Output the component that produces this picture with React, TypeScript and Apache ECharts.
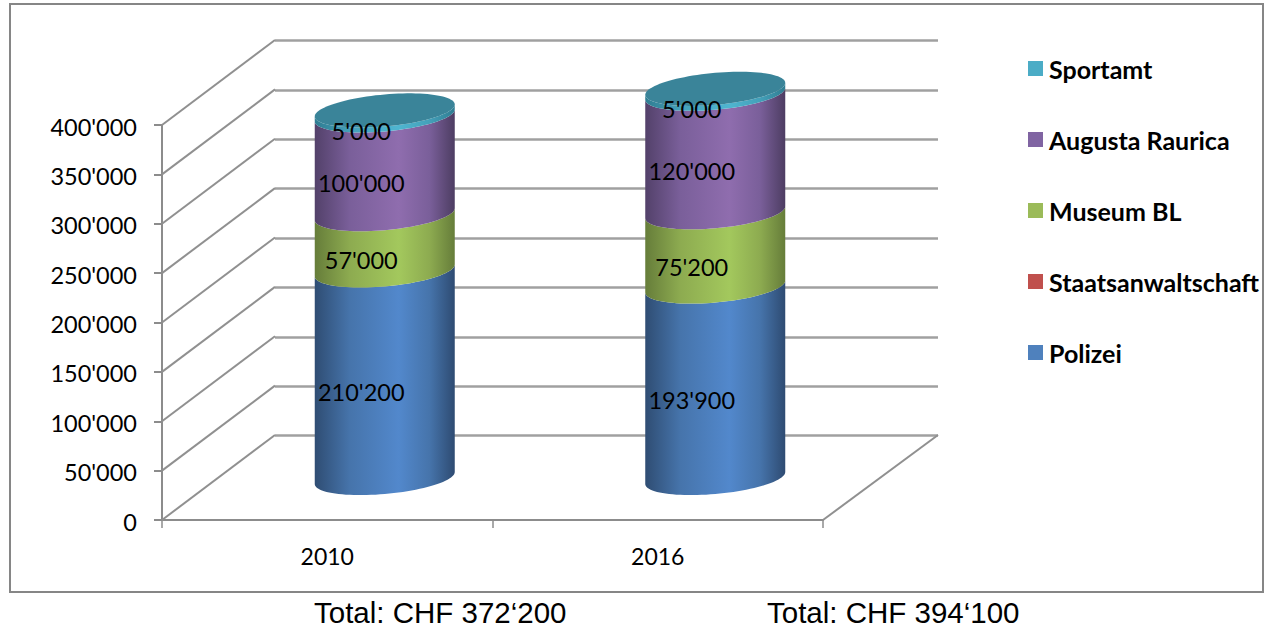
import React, { useEffect, useRef } from "react";
import * as echarts from "echarts";

const categories = ["2010", "2016"];
const polizei = [210200, 193900];
const staatsanwaltschaft = [0, 0];
const museumBL = [57000, 75200];
const augustaRaurica = [100000, 120000];
const sportamt = [5000, 5000];
const valueTicks = [0, 50000, 100000, 150000, 200000, 250000, 300000, 350000, 400000];
const totals = ["Total: CHF 372‘200", "Total: CHF 394‘100"];
const legendOrder = ["Sportamt", "Augusta Raurica", "Museum BL", "Staatsanwaltschaft", "Polizei"];

const DEPTH_X = 113;
const DEPTH_Y = -85;
const CYL_DX = 57.5;
const CYL_DY = -42;
const RX = 70;
const RY = 16;
const SKEW = 6;
const LABEL_FONT = "Lato, sans-serif";

const fmt = (v: number) => String(v).replace(/\B(?=(\d{3})+(?!\d))/g, "'");

const gradient = (stops: string[]) =>
  new echarts.graphic.LinearGradient(
    0,
    0,
    1,
    0,
    [
      { offset: 0, color: stops[0] },
      { offset: 0.25, color: stops[1] },
      { offset: 0.6, color: stops[2] },
      { offset: 0.82, color: stops[1] },
      { offset: 1, color: stops[3] },
    ],
  );

const frontCurve = (cx: number, cy: number, reverse: boolean) => {
  const pts: number[][] = [];
  const n = 48;
  for (let i = 0; i <= n; i++) {
    const t = Math.PI - (Math.PI * i) / n;
    const c = Math.cos(t);
    pts.push([cx + RX * c, cy - SKEW * c + RY * Math.sin(t)]);
  }
  return reverse ? pts.reverse() : pts;
};

const fullEllipse = (cx: number, cy: number) => {
  const pts: number[][] = [];
  const n = 96;
  for (let i = 0; i < n; i++) {
    const t = (2 * Math.PI * i) / n;
    const c = Math.cos(t);
    pts.push([cx + RX * c, cy - SKEW * c + RY * Math.sin(t)]);
  }
  return pts;
};

const stackDefs = [
  { name: "Polizei", values: polizei, legend: "#4f81bd", stops: ["#2f4d73", "#4674ab", "#5288cc", "#2e4b72"] },
  { name: "Staatsanwaltschaft", values: staatsanwaltschaft, legend: "#c0504d", stops: ["#773230", "#a84643", "#c9544f", "#773230"] },
  { name: "Museum BL", values: museumBL, legend: "#9bbb59", stops: ["#667d3a", "#8dab50", "#a3c85d", "#667d3a"] },
  { name: "Augusta Raurica", values: augustaRaurica, legend: "#8064a2", stops: ["#53416a", "#7a5f9a", "#8f6dae", "#4d3d62"] },
  { name: "Sportamt", values: sportamt, legend: "#4bacc6", stops: ["#2f7d92", "#44a0b9", "#4fb5d0", "#2f7d92"] },
];

const buildStackSeries = () => {
  const running = categories.map(() => 0);
  const lastIndex = stackDefs.length - 1;
  return stackDefs.map((def, si) => {
    const data = categories.map((_, i) => {
      const base = running[i];
      running[i] += def.values[i];
      return [i, base, running[i], def.values[i]];
    });
    const fill = gradient(def.stops);
    return {
      type: "custom",
      name: def.name,
      xAxisIndex: 0,
      yAxisIndex: 0,
      coordinateSystem: "cartesian2d",
      encode: { x: 0, y: [1, 2] },
      itemStyle: { color: def.legend },
      clip: false,
      z: 5,
      silent: true,
      data,
      renderItem: (_p: any, api: any) => {
        const v = api.value(3);
        if (!v) return { type: "group", children: [] };
        const cx = api.coord([api.value(0), 0])[0] + CYL_DX;
        const y0 = api.coord([api.value(0), api.value(1)])[1] + CYL_DY;
        const y1 = api.coord([api.value(0), api.value(2)])[1] + CYL_DY;
        const points = [...frontCurve(cx, y0, false), ...frontCurve(cx, y1, true)];
        const children: any[] = [
          { type: "polygon", shape: { points }, style: { fill } },
        ];
        if (si === lastIndex) {
          children.push({
            type: "polygon",
            shape: { points: fullEllipse(cx, y1) },
            style: { fill: "#3a8499" },
          });
        }
        children.push({
          type: "text",
          style: {
            text: fmt(v),
            x: cx - 23.5,
            y: (y0 + y1) / 2 + 18,
            align: "center",
            verticalAlign: "middle",
            font: `23.5px ${LABEL_FONT}`,
            fill: "#000",
          },
        });
        return { type: "group", children };
      },
    };
  });
};

export default function App() {
  const ref = useRef<HTMLDivElement>(null);
  useEffect(() => {
    const chart = echarts.init(ref.current!, undefined, { renderer: "svg" });
    chart.setOption({
      animation: false,
      backgroundColor: "#ffffff",
      grid: [
        { left: 162, top: 125, width: 661, height: 395 },
        { left: 275, top: 40.5, width: 663, height: 395 },
      ],
      xAxis: [
        {
          type: "category",
          gridIndex: 0,
          data: categories,
          axisLine: { lineStyle: { color: "#8c8c8c", width: 2 } },
          axisTick: { show: true, length: 8, lineStyle: { color: "#8c8c8c", width: 1.5 } },
          axisLabel: { color: "#000", fontFamily: LABEL_FONT, fontSize: 23, margin: 24 },
        },
        { type: "category", gridIndex: 1, data: categories, show: false },
      ],
      yAxis: [
        {
          type: "value",
          gridIndex: 0,
          min: 0,
          max: 400000,
          interval: 50000,
          axisLine: { show: true, lineStyle: { color: "#8c8c8c", width: 2 } },
          axisTick: { show: true, length: 8, lineStyle: { color: "#8c8c8c", width: 2 } },
          axisLabel: { color: "#000", fontFamily: LABEL_FONT, fontSize: 23.5, margin: 25, verticalAlign: "top", lineHeight: 3, formatter: (v: number) => fmt(v) },
          splitLine: { show: false },
        },
        {
          type: "value",
          gridIndex: 1,
          min: 0,
          max: 400000,
          interval: 50000,
          axisLine: { show: false },
          axisTick: { show: false },
          axisLabel: { show: false },
          splitLine: { show: true, lineStyle: { color: "#a0a0a0", width: 2.5 } },
        },
      ],
      legend: {
        orient: "vertical",
        left: 1023,
        top: 51,
        icon: "rect",
        itemWidth: 15,
        itemHeight: 15,
        itemGap: 46,
        selectedMode: false,
        data: legendOrder,
        textStyle: { color: "#000", fontFamily: LABEL_FONT, fontWeight: "bold", fontSize: 25, padding: [0, 0, 0, 1] },
      },
      graphic: [
        {
          type: "rect",
          z: 0,
          shape: { x: 10, y: 4, width: 1253, height: 588 },
          style: { fill: "none", stroke: "#868686", lineWidth: 2 },
        },
        {
          type: "text",
          style: { text: totals[0], x: 314, y: 612, verticalAlign: "middle", font: "29.5px 'Liberation Sans', Arial, sans-serif", fill: "#000" },
        },
        {
          type: "text",
          style: { text: totals[1], x: 767, y: 612, verticalAlign: "middle", font: "29.5px 'Liberation Sans', Arial, sans-serif", fill: "#000" },
        },
      ],
      series: [
        {
          type: "custom",
          coordinateSystem: "cartesian2d",
          xAxisIndex: 0,
          yAxisIndex: 0,
          encode: { y: 1 },
          clip: false,
          silent: true,
          z: 1,
          data: valueTicks.map((t) => [0, t]),
          renderItem: (p: any, api: any) => {
            const cs = p.coordSys;
            const y = api.coord([0, api.value(1)])[1];
            return {
              type: "line",
              shape: { x1: cs.x, y1: y, x2: cs.x + DEPTH_X, y2: y + DEPTH_Y },
              style: { stroke: "#909090", lineWidth: 2 },
            };
          },
        },
        {
          type: "custom",
          coordinateSystem: "cartesian2d",
          xAxisIndex: 0,
          yAxisIndex: 0,
          encode: { y: 1 },
          clip: false,
          silent: true,
          z: 1,
          data: [[0, 0]],
          renderItem: (p: any, api: any) => {
            const cs = p.coordSys;
            const y = api.coord([0, 0])[1];
            return {
              type: "line",
              shape: { x1: cs.x + cs.width, y1: y, x2: cs.x + cs.width + DEPTH_X + 2, y2: y + DEPTH_Y },
              style: { stroke: "#909090", lineWidth: 2 },
            };
          },
        },
        ...buildStackSeries(),
      ],
    });
    return () => chart.dispose();
  }, []);
  return <div ref={ref} style={{ position: "absolute", left: 0, top: 0, width: 1268, height: 628 }} />;
}
